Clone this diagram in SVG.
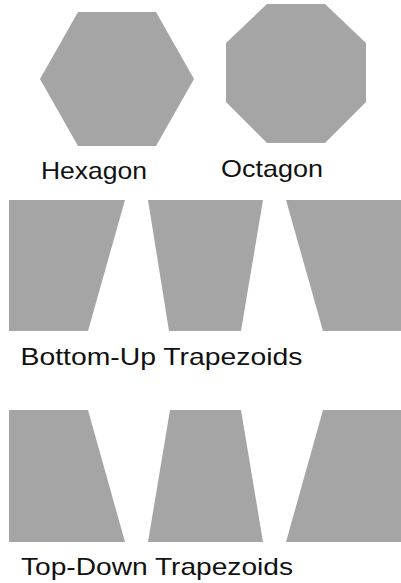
<svg xmlns="http://www.w3.org/2000/svg" width="401" height="583" viewBox="0 0 401 583">
<style>
.s{fill:#a5a5a5;stroke:none}
.t{font-family:"Liberation Sans",Arial,sans-serif;font-size:24px;fill:#111}
</style>
<rect width="401" height="583" fill="#fff"/>
<g id="hexagon">
<polygon class="s" points="78,12 156,12 194,79 156,146 78,146 40,79"/>
<text class="t" x="41" y="178.5" textLength="106" lengthAdjust="spacingAndGlyphs">Hexagon</text>
</g>
<g id="octagon">
<polygon class="s" points="267,4 325,4 366,43 366,102 325,143 267,143 226,102 226,43"/>
<text class="t" x="221" y="177" textLength="102" lengthAdjust="spacingAndGlyphs">Octagon</text>
</g>
<g id="bottom-up">
<polygon class="s" points="9,200 125,200 88,331 9,331"/>
<polygon class="s" points="148,200 263,200 241,331 169,331"/>
<polygon class="s" points="286,200 402,200 402,331 323,331"/>
<text class="t" x="20.5" y="364.5" textLength="282" lengthAdjust="spacingAndGlyphs">Bottom-Up Trapezoids</text>
</g>
<g id="top-down">
<polygon class="s" points="9,410 88,410 125,542 9,542"/>
<polygon class="s" points="170,410 241,410 263,542 148,542"/>
<polygon class="s" points="323,410 402,410 402,542 286,542"/>
<text class="t" x="21" y="574.5" textLength="272" lengthAdjust="spacingAndGlyphs">Top-Down Trapezoids</text>
</g>
<g id="connectors"/>
</svg>
